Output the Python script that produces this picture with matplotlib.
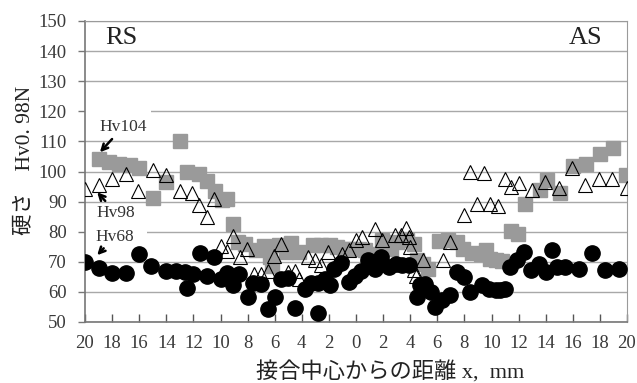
import numpy as np
import matplotlib
matplotlib.use("Agg")
import matplotlib.pyplot as plt
from matplotlib.patches import Rectangle

SERIF = ["Liberation Serif", "Noto Sans CJK JP"]

# hardness profile across the joint, Hv0.98N
sq_x = [-19.0, -18.2, -17.5, -16.7, -16.0, -15.0, -14.0, -13.0, -12.5, -11.6, -11.0, -10.4,
        -9.9, -9.5, -9.05, -8.7, -8.2, -7.4, -6.8, -6.35, -6.2, -5.7, -5.2, -4.8, -4.2,
        -3.2, -2.6, -1.9, -1.4, -0.9, -0.4, 0.2, 0.7, 1.05, 1.9, 2.05, 2.55, 3.0, 3.75,
        4.25, 4.5, 4.95, 5.35, 6.1, 6.8, 7.45, 7.9, 8.55, 9.2, 9.6, 9.9, 10.35, 10.8,
        11.45, 11.95, 12.5, 13.6, 14.1, 15.05, 16.05, 16.95, 18.0, 19.0, 19.95]
sq_hv = [104.0, 103.3, 102.6, 102.0, 101.2, 91.3, 96.5, 110.0, 99.8, 99.2, 97.0, 93.5,
         90.5, 91.0, 82.7, 76.6, 75.8, 74.0, 75.2, 71.6, 68.6, 75.5, 73.3, 76.4, 73.3,
         75.5, 75.6, 75.5, 74.9, 74.3, 74.4, 74.4, 73.8, 72.7, 77.1, 74.9, 74.4, 76.6, 77.1,
         76.0, 70.5, 69.3, 67.7, 76.8, 77.1, 76.6, 74.2, 73.0, 72.7, 73.8, 71.0, 70.5, 70.3,
         80.2, 79.1, 89.2, 93.8, 97.1, 92.7, 101.8, 102.6, 105.9, 107.8, 98.7]

tri_x = [-20.0, -19.0, -18.0, -17.0, -16.1, -15.0, -14.0, -13.0, -12.1, -11.6, -11.0, -10.5,
         -10.0, -9.5, -9.05, -8.55, -8.05, -7.5, -7.0, -6.5, -6.05, -5.5, -5.05, -4.5, -4.2,
         -3.55, -3.03, -2.55, -2.05, -1.05, -0.5, 0.0, 0.45, 1.4, 1.95, 2.9, 3.3, 3.7, 3.9,
         4.0, 4.25, 4.4, 4.95, 6.45, 6.95, 7.95, 8.45, 8.95, 9.45, 9.9, 10.45, 11.0, 11.45,
         12.0, 12.97, 13.96, 14.95, 15.92, 16.93, 17.93, 18.92, 19.97]
tri_hv = [94.3, 95.6, 97.4, 99.1, 93.5, 100.6, 98.7, 93.5, 93.0, 88.8, 84.9, 91.0,
          75.4, 73.6, 78.5, 71.6, 74.1, 66.1, 65.8, 67.0, 72.0, 75.9, 66.6, 66.9, 64.4,
          71.6, 70.5, 68.8, 73.3, 72.5, 73.8, 77.1, 78.2, 81.0, 77.1, 78.8, 78.8, 81.3, 78.2,
          74.9, 67.2, 65.3, 70.5, 70.5, 76.6, 85.4, 99.7, 89.3, 99.5, 89.3, 88.6, 97.4, 94.9,
          96.1, 93.8, 96.4, 94.4, 101.0, 95.4, 97.6, 97.6, 94.4]

cir_x = [-20.0, -19.0, -18.0, -17.0, -16.0, -15.1, -14.0, -13.3, -12.6, -12.5, -12.0, -11.5,
         -11.0, -10.5, -10.0, -9.5, -9.1, -8.6, -8.0, -7.6, -7.0, -6.5, -6.0, -5.5, -5.0,
         -4.5, -3.8, -3.3, -2.8, -2.8, -2.3, -1.9, -1.6, -1.1, -0.55, -0.1, 0.4, 0.9, 1.4,
         1.85, 2.4, 2.95, 3.4, 3.9, 4.5, 4.75, 5.1, 5.5, 5.85, 6.35, 6.95, 7.45, 7.95, 8.45,
         9.3, 9.8, 10.3, 10.65, 11.0, 11.4, 11.9, 12.4, 12.9, 13.5, 14.0, 14.5, 14.85,
         15.45, 16.45, 17.4, 18.4, 19.4]
cir_hv = [70.0, 68.0, 66.3, 66.3, 72.7, 68.6, 67.0, 67.0, 66.6, 61.4, 65.9, 72.9,
          65.3, 71.6, 64.2, 66.3, 62.4, 65.8, 58.3, 63.1, 62.5, 54.2, 58.3, 64.2, 64.6,
          54.7, 61.1, 63.1, 53.1, 62.8, 64.2, 62.2, 67.5, 69.5, 63.3, 65.4, 66.9, 70.5, 67.6,
          71.6, 68.3, 69.3, 68.8, 68.8, 58.3, 62.2, 62.5, 60.0, 55.0, 57.2, 58.9, 66.6, 64.8, 60.0,
          62.2, 61.1, 60.5, 60.5, 61.1, 68.3, 70.5, 73.3, 67.2, 69.4, 66.6, 73.8, 68.3,
          68.3, 67.7, 72.9, 67.2, 67.5]

x_ticks = list(range(-20, 21, 2))
x_tick_labels = [str(abs(v)) for v in x_ticks]
y_ticks = list(range(50, 151, 10))

fig = plt.figure(figsize=(6.37, 3.83), dpi=100)
ax = fig.add_axes([85 / 637, 61 / 383, 542 / 637, 301 / 383])
ax.set_axisbelow(True)

ax.plot(sq_x, sq_hv, ls="none", marker="s", ms=9.5, mfc="#9a9a9a", mec="#9a9a9a", zorder=3)
ax.plot(cir_x, cir_hv, ls="none", marker="o", ms=11, mfc="black", mec="black", zorder=4)
ax.plot(tri_x, tri_hv, ls="none", marker="^", ms=10, mfc="none", mec="black", mew=0.8, zorder=5)

ax.set_xlim(-20, 20)
ax.set_ylim(50, 150)
ax.set_xticks(x_ticks)
ax.set_xticklabels(x_tick_labels)
ax.set_yticks(y_ticks)
ax.yaxis.grid(True, color="#a8a8a8", lw=1.0)

for side in ["top", "right"]:
    ax.spines[side].set_color("#9a9a9a")
for side in ["left", "bottom"]:
    ax.spines[side].set_color("#777777")
    ax.spines[side].set_linewidth(1.2)

ax.tick_params(axis="x", direction="in", length=6, width=1, color="#555555", pad=9,
               labelsize=13.5, labelcolor="#3a3a3a")
ax.tick_params(axis="y", direction="out", length=5, width=1, color="#777777", pad=8,
               labelsize=13.5, labelcolor="#3a3a3a")
for lab in ax.get_xticklabels() + ax.get_yticklabels():
    lab.set_family(SERIF)

# white patches behind the base-metal labels
ax.add_patch(Rectangle((-20, 117), 4.9, 5, fc="white", ec="none", zorder=1))
ax.add_patch(Rectangle((-20, 77.5), 4.6, 4, fc="white", ec="none", zorder=1))

ax.text(0.037, 0.943, "RS", transform=ax.transAxes, ha="left", va="center",
        fontsize=19, family=SERIF, color="#222222")
ax.text(0.954, 0.943, "AS", transform=ax.transAxes, ha="right", va="center",
        fontsize=19, family=SERIF, color="#222222")

arrow = dict(arrowstyle="->", color="black", lw=1.8, mutation_scale=11, shrinkA=1, shrinkB=0)
ax.annotate("Hv104", xy=(-18.9, 106.4), xytext=(-17.2, 114.7), ha="center", va="center",
            fontsize=12.5, family=SERIF, color="#333333", arrowprops=arrow, zorder=6)
ax.annotate("Hv98", xy=(-19.1, 93.1), xytext=(-17.7, 86.3), ha="center", va="center",
            fontsize=12.5, family=SERIF, color="#333333", arrowprops=arrow, zorder=6)
ax.annotate("Hv68", xy=(-19.1, 72.2), xytext=(-17.8, 78.4), ha="center", va="center",
            fontsize=12.5, family=SERIF, color="#333333", arrowprops=arrow, zorder=6)

fig.text(25 / 637, 1 - 160 / 383, "硬さ\u3000Hv0. 98N", rotation=90, ha="center", va="center",
         fontsize=15.5, family=SERIF, color="#222222")
fig.text(390 / 637, 1 - 372 / 383, "接合中心からの距離 x,  mm", ha="center", va="center",
         fontsize=16, family=SERIF, color="#222222")

fig.savefig("out.png", dpi=100)
